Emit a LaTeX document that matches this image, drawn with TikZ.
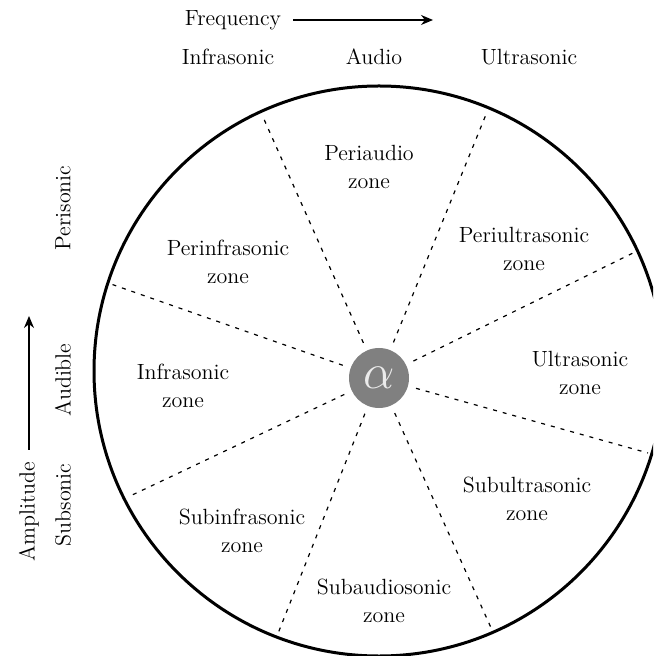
\documentclass[tikz,border=0pt]{standalone}
\usetikzlibrary{arrows.meta}
\colorlet{alphafill}{black!50}
\colorlet{alphatext}{white!92!black}
\begin{document}
\begin{tikzpicture}[x=0.5pt,y=-0.5pt,
  lbl/.style={font=\fontsize{11}{14}\selectfont, align=center, inner sep=0pt},
  divider/.style={dash pattern=on 2pt off 3pt, line width=0.6pt, shorten <=4pt},
  axisarrow/.style={-{Stealth[length=6pt,width=5pt]}, line width=0.6pt},
  alphabox/.style={circle, fill=alphafill, minimum size=30pt, inner sep=0pt, text=alphatext, font=\fontsize{26}{26}\selectfont}]
\useasboundingbox (0,0) rectangle (653,656);
\begin{scope}
  \clip (0,0) rectangle (653,656);
  \draw[line width=1.5pt] (379,371) circle[radius=285];
\end{scope}
% centre
\node[alphabox] (alpha) at (379,378) {$\alpha$};
% divider end points
\coordinate (e1) at (263,117);
\coordinate (e2) at (487,112);
\coordinate (e3) at (633,253);
\coordinate (e4) at (648,453);
\coordinate (e5) at (492,630);
\coordinate (e6) at (277,636);
\coordinate (e7) at (128,497);
\coordinate (e8) at (108,283);
\foreach \e in {e1,e2,e3,e4,e5,e6,e7,e8} \draw[divider] (alpha) -- (\e);
% zone labels
\node[lbl] (z1) at (369,167) {Periaudio\\zone};
\node[lbl] (z2) at (524,249) {Periultrasonic\\zone};
\node[lbl] (z3) at (580,373) {Ultrasonic\\zone};
\node[lbl] (z4) at (527,499) {Subultrasonic\\zone};
\node[lbl] (z5) at (384,601) {Subaudiosonic\\zone};
\node[lbl] (z6) at (242,531) {Subinfrasonic\\zone};
\node[lbl] (z7) at (183,386) {Infrasonic\\zone};
\node[lbl] (z8) at (228,262) {Perinfrasonic\\zone};
% top axis
\node[lbl] (freq) at (233,20) {Frequency};
\coordinate (fend) at (433,20);
\draw[axisarrow] ([xshift=6pt]freq.east) -- (fend);
\node[lbl] (tinf) at (228,57) {Infrasonic};
\node[lbl] (taud) at (374,57) {Audio};
\node[lbl] (tult) at (529,57) {Ultrasonic};
% left axis
\node[lbl, rotate=90] (amp) at (29,512) {Amplitude};
\coordinate (aend) at (29,316);
\draw[axisarrow] ([yshift=6pt]amp.east) -- (aend);
\node[lbl, rotate=90] (lsub) at (63,505) {Subsonic};
\node[lbl, rotate=90] (laud) at (63,380) {Audible};
\node[lbl, rotate=90] (lper) at (63,208) {Perisonic};
\end{tikzpicture}
\end{document}
